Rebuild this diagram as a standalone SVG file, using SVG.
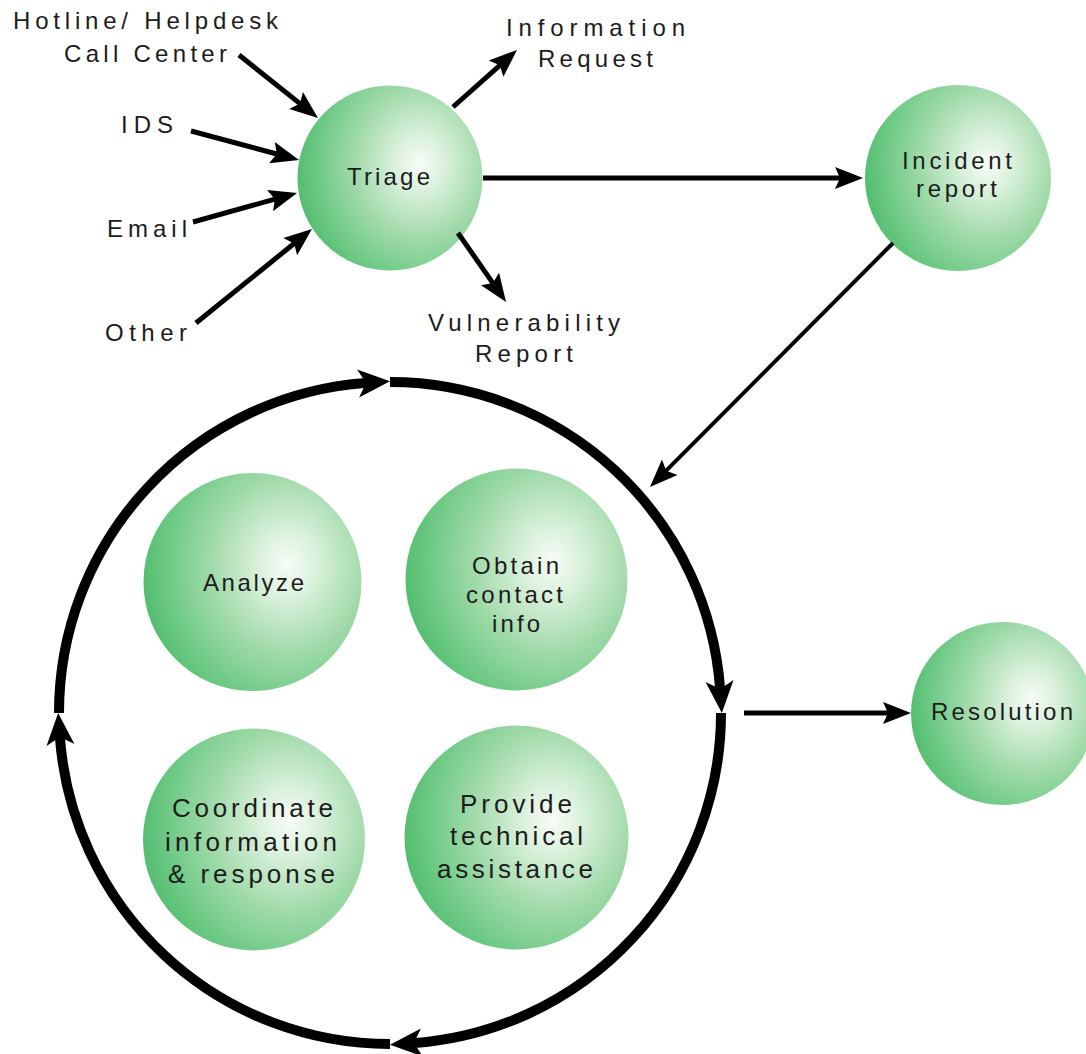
<svg xmlns="http://www.w3.org/2000/svg" width="1086" height="1054" viewBox="0 0 1086 1054">
  <defs>
    <radialGradient id="ball" cx="0.66" cy="0.42" fx="0.66" fy="0.42" r="0.72" gradientTransform="translate(0.66 0.42) scale(0.95 1.1) translate(-0.66 -0.42)">
      <stop offset="0" stop-color="#f8fcf7"/>
      <stop offset="0.22" stop-color="#d6efd8"/>
      <stop offset="0.5" stop-color="#a3dbac"/>
      <stop offset="0.8" stop-color="#6fca86"/>
      <stop offset="1" stop-color="#4fbc6c"/>
    </radialGradient>
    <marker id="head" markerUnits="userSpaceOnUse" viewBox="-10 -15 40 30" markerWidth="40" markerHeight="30" refX="0" refY="0" orient="auto" overflow="visible">
      <path d="M-5,-11 L23,0 L-5,11 L0,0 Z" fill="#000"/>
    </marker>
    <marker id="bighead" markerUnits="userSpaceOnUse" viewBox="-10 -16 40 32" markerWidth="40" markerHeight="32" refX="0" refY="0" orient="auto" overflow="visible">
      <path d="M-8,-14 L24,0 L-8,14 L0,0 Z" fill="#000"/>
    </marker>
    <style>
      .ball { fill: url(#ball); }
      .lbl { font-family: "Liberation Sans", Arial, sans-serif; font-size: 24px; fill: #1c1c1c; text-anchor: middle; }
      .big { font-size: 26px; }
      .edge { fill: none; stroke: #000; stroke-width: 5; marker-end: url(#head); }
      .thin { stroke-width: 4; }
      .cycle { fill: none; stroke: #000; stroke-width: 10; marker-end: url(#bighead); }
    </style>
  </defs>
  <rect width="1086" height="1054" fill="#fff"/>

  <!-- sources feeding triage -->
  <g id="hotline">
    <text class="lbl" x="145.5" y="29" textLength="265" lengthAdjust="spacing">Hotline/ Helpdesk</text>
    <text class="lbl" x="145.5" y="62" textLength="163" lengthAdjust="spacing">Call Center</text>
  </g>
  <g id="ids">
    <text class="lbl" x="147" y="133" textLength="52" lengthAdjust="spacing">IDS</text>
  </g>
  <g id="email">
    <text class="lbl" x="147" y="237" textLength="80" lengthAdjust="spacing">Email</text>
  </g>
  <g id="other">
    <text class="lbl" x="146" y="341" textLength="82" lengthAdjust="spacing">Other</text>
  </g>

  <!-- triage outcomes -->
  <g id="info-request">
    <text class="lbl" x="595.5" y="36" textLength="179" lengthAdjust="spacing">Information</text>
    <text class="lbl" x="595.5" y="67" textLength="115" lengthAdjust="spacing">Request</text>
  </g>
  <g id="vuln-report">
    <text class="lbl" x="524" y="331" textLength="192" lengthAdjust="spacing">Vulnerability</text>
    <text class="lbl" x="524" y="362" textLength="98" lengthAdjust="spacing">Report</text>
  </g>

  <g id="triage">
    <circle class="ball" cx="390" cy="178" r="92.5"/>
    <text class="lbl" x="388.5" y="185" textLength="83" lengthAdjust="spacing">Triage</text>
  </g>
  <g id="incident-report">
    <circle class="ball" cx="958" cy="178" r="93"/>
    <text class="lbl" x="957" y="169" textLength="110" lengthAdjust="spacing">Incident</text>
    <text class="lbl" x="956.5" y="197" textLength="81" lengthAdjust="spacing">report</text>
  </g>

  <!-- handling cycle -->
  <g id="analyze">
    <circle class="ball" cx="252.5" cy="582" r="109"/>
    <text class="lbl" x="253.5" y="591" textLength="101" lengthAdjust="spacing">Analyze</text>
  </g>
  <g id="obtain-contact">
    <circle class="ball" cx="516.5" cy="579.5" r="111"/>
    <text class="lbl" x="515.5" y="574" textLength="87" lengthAdjust="spacing">Obtain</text>
    <text class="lbl" x="514.5" y="603" textLength="97" lengthAdjust="spacing">contact</text>
    <text class="lbl" x="516" y="632" textLength="48" lengthAdjust="spacing">info</text>
  </g>
  <g id="coordinate">
    <circle class="ball" cx="254" cy="839.5" r="111"/>
    <text class="lbl big" x="252.5" y="817" textLength="161" lengthAdjust="spacing">Coordinate</text>
    <text class="lbl big" x="251" y="851" textLength="172" lengthAdjust="spacing">information</text>
    <text class="lbl big" x="251.5" y="883" textLength="167" lengthAdjust="spacing">&amp; response</text>
  </g>
  <g id="technical-assistance">
    <circle class="ball" cx="516.5" cy="837.5" r="112"/>
    <text class="lbl big" x="516" y="813" textLength="112" lengthAdjust="spacing">Provide</text>
    <text class="lbl big" x="516.5" y="845" textLength="133" lengthAdjust="spacing">technical</text>
    <text class="lbl big" x="515" y="878" textLength="156" lengthAdjust="spacing">assistance</text>
  </g>

  <g id="resolution">
    <circle class="ball" cx="1002.5" cy="713.5" r="91.5"/>
    <text class="lbl" x="1002" y="720" textLength="142" lengthAdjust="spacing">Resolution</text>
  </g>

  <!-- connectors -->
  <g id="connectors">
    <path class="edge" d="M239,55 L300,103.6"/>
    <path class="edge" d="M191,131 L276.8,154"/>
    <path class="edge" d="M193,222 L274.9,199.2"/>
    <path class="edge" d="M196,323 L294.1,243.5"/>
    <path class="edge" d="M453,107 L499.8,65.3"/>
    <path class="edge" d="M458,233 L492.9,283.1"/>
    <path class="edge" d="M483,178 L840,178"/>
    <path class="edge thin" d="M893,243 L666.2,470.7"/>
    <path class="edge" d="M744,713 L888,713"/>
    <!-- ring of four quarter arcs around the handling steps -->
    <path class="cycle" d="M59,713 A331,331 0 0 1 366.05,382.87"/>
    <path class="cycle" d="M390,382 A331,331 0 0 1 720.13,689.05"/>
    <path class="cycle" d="M721,713 A331,331 0 0 1 413.95,1043.13"/>
    <path class="cycle" d="M390,1044 A331,331 0 0 1 59.87,736.95"/>
  </g>
</svg>
